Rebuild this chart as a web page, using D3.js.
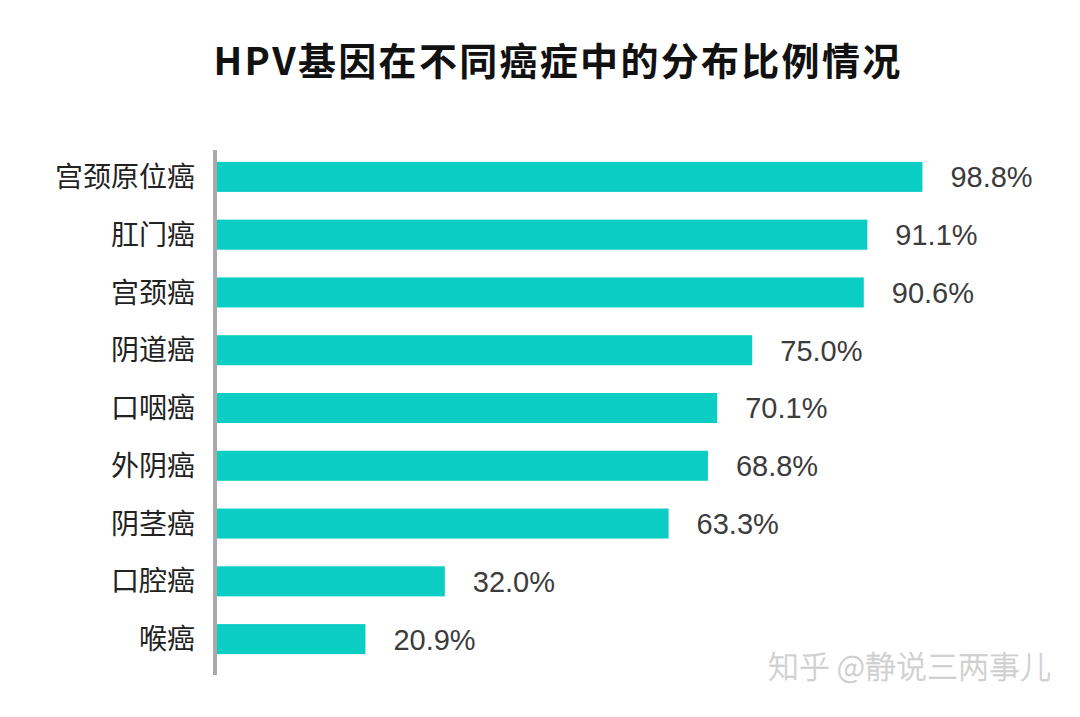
<!DOCTYPE html>
<html><head><meta charset="utf-8">
<script src="https://cdn.jsdelivr.net/npm/d3@7"></script>
<style>body{margin:0;background:#fff;}svg{display:block;}</style>
</head><body>
<svg id="c" width="1080" height="717"></svg>
<script>
const categories = ["宫颈原位癌","肛门癌","宫颈癌","阴道癌","口咽癌","外阴癌","阴茎癌","口腔癌","喉癌"];
const values = [98.8, 91.1, 90.6, 75.0, 70.1, 68.8, 63.3, 32.0, 20.9];
const valueLabels = ["98.8%","91.1%","90.6%","75.0%","70.1%","68.8%","63.3%","32.0%","20.9%"];
const title = "HPV基因在不同癌症中的分布比例情况";
const watermark = "知乎 @静说三两事儿";

const svg = d3.select("#c");
const x = d3.scaleLinear().domain([0, 100]).range([216, 931]);
const y = d3.scaleBand().domain(categories).range([148, 668]).paddingInner(0.48).paddingOuter(0.24);

svg.append("text").attr("x", 558).attr("y", 75).attr("text-anchor", "middle")
  .attr("font-family", "Noto Sans CJK SC").attr("font-weight", 700).attr("font-size", 38)
  .attr("letter-spacing", 2.3)
  .attr("fill", "#111").text(title);

svg.append("line").attr("x1", 215).attr("x2", 215).attr("y1", 150).attr("y2", 675)
  .attr("stroke", "#a9a9a9").attr("stroke-width", 4);

const idx = d3.range(categories.length);
svg.selectAll("rect.bar").data(idx).join("rect").attr("class", "bar")
  .attr("x", x(0) + 1).attr("y", i => y(categories[i]))
  .attr("width", i => x(values[i]) - x(0) - 1).attr("height", y.bandwidth())
  .attr("fill", "#0ccdc3");

svg.selectAll("text.cat").data(idx).join("text").attr("class", "cat")
  .attr("x", 195).attr("y", i => y(categories[i]) + y.bandwidth() / 2)
  .attr("dy", "0.36em").attr("text-anchor", "end")
  .attr("font-family", "Noto Sans CJK SC").attr("font-size", 28).attr("fill", "#222")
  .text(i => categories[i]);

svg.selectAll("text.val").data(idx).join("text").attr("class", "val")
  .attr("x", i => x(values[i]) + 28).attr("y", i => y(categories[i]) + y.bandwidth() / 2)
  .attr("dy", "0.36em").attr("text-anchor", "start")
  .attr("font-family", "Liberation Sans, sans-serif").attr("font-weight", 400).attr("font-size", 29).attr("fill", "#3c3c3c")
  .text(i => valueLabels[i]);

svg.append("text").attr("x", 1051).attr("y", 678).attr("text-anchor", "end")
  .attr("font-family", "Noto Sans CJK SC").attr("font-weight", 300).attr("font-size", 31).attr("fill", "#d4d4d4")
  .attr("stroke", "#c4c4c4").attr("stroke-width", 0.4)
  .text(watermark);
</script>
</body></html>
